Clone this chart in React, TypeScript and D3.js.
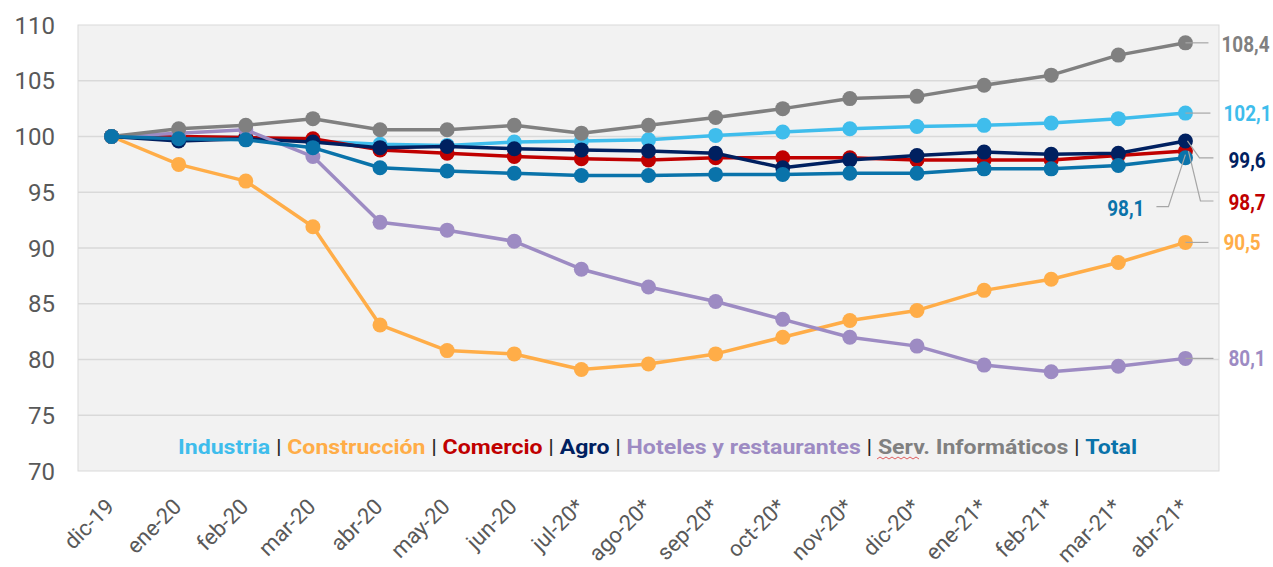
import { useMemo } from "react";
import * as d3 from "d3";

const categories = ["dic-19", "ene-20", "feb-20", "mar-20", "abr-20", "may-20", "jun-20", "jul-20*", "ago-20*", "sep-20*", "oct-20*", "nov-20*", "dic-20*", "ene-21*", "feb-21*", "mar-21*", "abr-21*"];

const industria = [100, 99.9, 99.9, 99.6, 99.3, 99.2, 99.5, 99.6, 99.7, 100.1, 100.4, 100.7, 100.9, 101.0, 101.2, 101.6, 102.1];
const construccion = [100, 97.5, 96.0, 91.9, 83.1, 80.8, 80.5, 79.1, 79.6, 80.5, 82.0, 83.5, 84.4, 86.2, 87.2, 88.7, 90.5];
const comercio = [100, 100.0, 99.9, 99.8, 98.8, 98.5, 98.2, 98.0, 97.9, 98.1, 98.1, 98.1, 97.9, 97.9, 97.9, 98.3, 98.7];
const agro = [100, 99.6, 99.8, 99.5, 99.0, 99.1, 98.9, 98.8, 98.7, 98.5, 97.2, 97.9, 98.3, 98.6, 98.4, 98.5, 99.6];
const hoteles = [100, 100.3, 100.6, 98.2, 92.3, 91.6, 90.6, 88.1, 86.5, 85.2, 83.6, 82.0, 81.2, 79.5, 78.9, 79.4, 80.1];
const servInf = [100, 100.7, 101.0, 101.6, 100.6, 100.6, 101.0, 100.3, 101.0, 101.7, 102.5, 103.4, 103.6, 104.6, 105.5, 107.3, 108.4];
const total = [100, 99.8, 99.7, 99.0, 97.2, 96.9, 96.7, 96.5, 96.5, 96.6, 96.6, 96.7, 96.7, 97.1, 97.1, 97.4, 98.1];

const yTicks = [70, 75, 80, 85, 90, 95, 100, 105, 110];

const series = [
  { name: "Industria", values: industria, color: "#3FBDEC" },
  { name: "Construcción", values: construccion, color: "#FFAD48" },
  { name: "Comercio", values: comercio, color: "#C00000" },
  { name: "Agro", values: agro, color: "#002060" },
  { name: "Hoteles y restaurantes", values: hoteles, color: "#9D8BC3" },
  { name: "Serv. Informáticos", values: servInf, color: "#808080" },
  { name: "Total", values: total, color: "#0A73AA" },
];

// end label placement: leader polyline offsets (relative to last point) and text position
const endLabels: Record<string, { pts: [number, number][]; tx: number; ty: number; anchor: string }> = {
  Industria: { pts: [[0, 0], [25, 0]], tx: 38, ty: 0, anchor: "start" },
  Construcción: { pts: [[0, 0], [23, 0]], tx: 38, ty: 0, anchor: "start" },
  Comercio: { pts: [[3, 0], [15, 50], [28, 50]], tx: 43, ty: 51, anchor: "start" },
  Agro: { pts: [[2, 0], [14, 17], [28, 17]], tx: 43, ty: 19, anchor: "start" },
  "Hoteles y restaurantes": { pts: [[0, 0], [28, 0]], tx: 43, ty: 0, anchor: "start" },
  "Serv. Informáticos": { pts: [[0, 0], [23, 0]], tx: 36, ty: 1, anchor: "start" },
  Total: { pts: [[0, -3], [-17, 49], [-29, 49]], tx: -41, ty: 50, anchor: "end" },
};

const fmt = (v: number) => d3.format(".1f")(v).replace(".", ",");

export default function App() {
  const width = 1273;
  const height = 567;
  const left = 78, right = 1219, top = 25, bottom = 471;

  const x = useMemo(() => d3.scalePoint<string>().domain(categories).range([left, right]).padding(0.5), []);
  const y = useMemo(() => d3.scaleLinear().domain([70, 110]).range([bottom, top]), []);

  const line = d3.line<number>()
    .x((_, i) => x(categories[i]) as number)
    .y(d => y(d));

  const lastX = x(categories[categories.length - 1]) as number;

  return (
    <svg width={width} height={height} style={{ display: "block", position: "absolute", left: 0, top: 0 }}
      fontFamily="Roboto, 'Noto Sans', sans-serif">
      <rect x={0} y={0} width={width} height={height} fill="#ffffff" />
      <rect x={left} y={top} width={right - left} height={bottom - top} fill="#F2F2F2" stroke="#D9D9D9" strokeWidth={1} />
      {yTicks.map(t => (
        <g key={t}>
          {t > 70 && t < 110 && <line x1={left} x2={right} y1={y(t)} y2={y(t)} stroke="#D9D9D9" strokeWidth={1.3} />}
          <text x={55} y={y(t)} dy="0.36em" textAnchor="end" fontSize={24} fill="#595959">{t}</text>
        </g>
      ))}
      {categories.map(c => {
        const cx = x(c) as number;
        return (
          <text key={c} transform={`translate(${cx + 4},${508}) rotate(-45)`} textAnchor="end"
            fontSize={22} fill="#595959">{c}</text>
        );
      })}

      {series.map(s => (
        <g key={s.name}>
          <path d={line(s.values) || ""} fill="none" stroke={s.color} strokeWidth={3.5} strokeLinejoin="round" />
          {s.values.map((v, i) => (
            <circle key={i} cx={x(categories[i])} cy={y(v)} r={7.5} fill={s.color} />
          ))}
        </g>
      ))}

      {series.map(s => {
        const lab = endLabels[s.name];
        const v = s.values[s.values.length - 1];
        const py = y(v);
        const pts = lab.pts.map(([dx, dy]) => `${lastX + dx},${py + dy}`).join(" ");
        const txt = fmt(v);
        return (
          <g key={"lab" + s.name}>
            <polyline points={pts} fill="none" stroke="#A6A6A6" strokeWidth={1.2} />
            <text transform={`translate(${lastX + lab.tx},${py + lab.ty}) scale(0.86,1)`} dy="0.36em"
              textAnchor={lab.anchor} fontSize={22} fontWeight="bold" fill={s.color}>{txt}</text>
          </g>
        );
      })}

      <text x={178} y={454} fontSize={21} fontWeight="bold" textLength={959} lengthAdjust="spacingAndGlyphs">
        {series.map((s, i) => (
          <tspan key={s.name}>
            <tspan fill={s.color}>{s.name}</tspan>
            {i < series.length - 1 && <tspan fill="#262626" fontWeight="normal"> | </tspan>}
          </tspan>
        ))}
      </text>
      <path d={d3.range(0, 44, 3).map((d, i) => `${i === 0 ? "M" : "L"}${877 + d},${i % 2 ? 457 : 459}`).join(" ")}
        fill="none" stroke="#E06060" strokeWidth={1} />
    </svg>
  );
}
